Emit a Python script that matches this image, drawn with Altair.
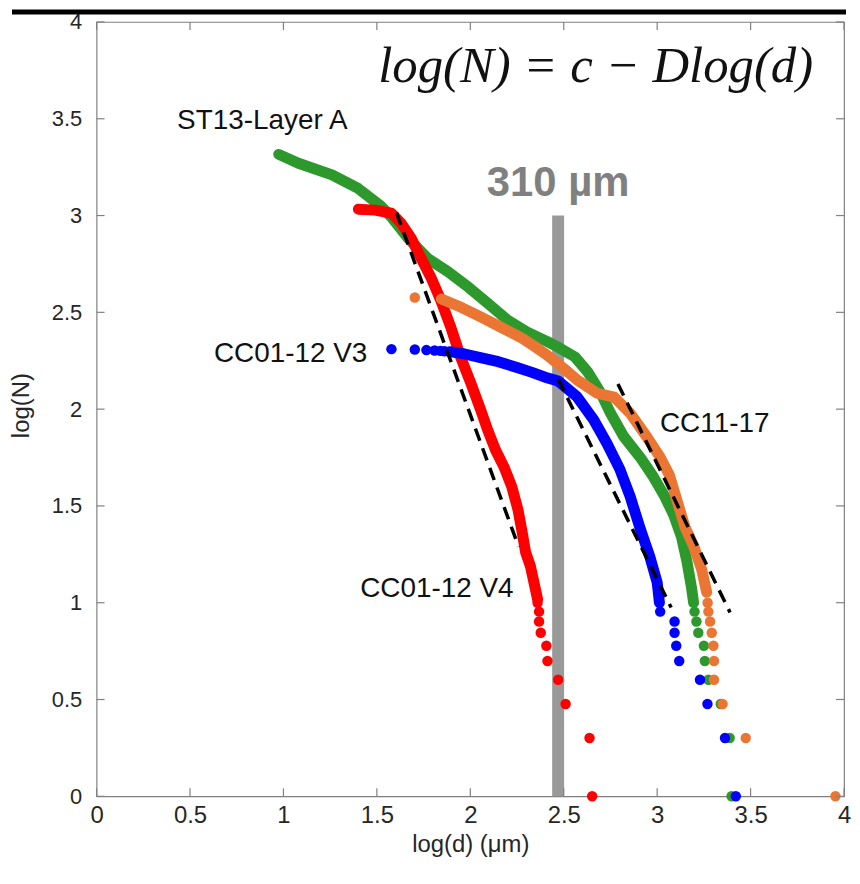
import altair as alt
import pandas as pd

# ---------------- data ----------------
# ST13-Layer A (green)
green_band_x = [0.975, 1.08, 1.26, 1.40, 1.52, 1.58, 1.67, 1.77, 1.88, 1.99, 2.09, 2.20, 2.30, 2.41, 2.47,
                2.56, 2.63, 2.70, 2.75, 2.82, 2.91, 2.98, 3.04, 3.09, 3.13, 3.16, 3.185, 3.195]
green_band_y = [3.316, 3.27, 3.21, 3.14, 3.05, 2.99, 2.88, 2.78, 2.71, 2.63, 2.55, 2.46, 2.40, 2.35, 2.32,
                2.27, 2.19, 2.08, 1.98, 1.86, 1.75, 1.65, 1.55, 1.45, 1.34, 1.21, 1.07, 1.00]
green_dot_x = [3.20, 3.21, 3.22, 3.25, 3.255, 3.274, 3.34, 3.388, 3.398]
green_dot_y = [0.954, 0.903, 0.845, 0.778, 0.699, 0.602, 0.477, 0.301, 0.0]

# CC01-12 V4 (red)
red_band_x = [1.401, 1.49, 1.577, 1.63, 1.683, 1.736, 1.79, 1.843, 1.896, 1.949, 2.003, 2.056, 2.093,
              2.135, 2.18, 2.222, 2.255, 2.278, 2.296, 2.322, 2.345, 2.36]
red_band_y = [3.033, 3.028, 3.013, 2.96, 2.884, 2.781, 2.679, 2.56, 2.422, 2.267, 2.134, 1.995, 1.892,
              1.789, 1.702, 1.599, 1.481, 1.362, 1.26, 1.188, 1.085, 1.018]
red_dot_x = [2.36, 2.368, 2.368, 2.377, 2.407, 2.413, 2.47, 2.51, 2.638, 2.652]
red_dot_y = [1.0, 0.954, 0.903, 0.845, 0.778, 0.699, 0.602, 0.477, 0.301, 0.0]

# CC11-17 (orange)
orange_band_x = [1.845, 1.951, 2.058, 2.164, 2.271, 2.35, 2.41, 2.50, 2.573, 2.679, 2.77, 2.855, 2.945,
                 3.015, 3.065, 3.105, 3.148, 3.196, 3.238, 3.265]
orange_band_y = [2.569, 2.526, 2.475, 2.423, 2.37, 2.32, 2.28, 2.21, 2.15, 2.082, 2.062, 1.979, 1.856,
                 1.753, 1.66, 1.532, 1.393, 1.291, 1.172, 1.054]
orange_dot_x = [1.703, 3.27, 3.274, 3.283, 3.292, 3.301, 3.304, 3.304, 3.35, 3.474, 3.954]
orange_dot_y = [2.577, 1.0, 0.954, 0.903, 0.845, 0.778, 0.699, 0.602, 0.477, 0.301, 0.0]

# CC01-12 V3 (blue)
blue_band_x = [1.89, 1.97, 2.06, 2.15, 2.25, 2.33, 2.40, 2.47, 2.57, 2.66, 2.73, 2.80, 2.855, 2.91,
               2.96, 3.0, 3.012]
blue_band_y = [2.297, 2.285, 2.265, 2.245, 2.215, 2.19, 2.165, 2.145, 2.065, 1.945, 1.825, 1.69, 1.55,
               1.38, 1.24, 1.105, 1.0]
blue_dot_x = [1.578, 1.703, 1.765, 1.809, 1.84, 1.862, 3.016, 3.093, 3.093, 3.102, 3.118, 3.229, 3.269,
              3.363, 3.421]
blue_dot_y = [2.310, 2.308, 2.305, 2.303, 2.301, 2.299, 0.954, 0.903, 0.845, 0.778, 0.699, 0.602, 0.477,
              0.301, 0.0]

# dashed fits  log(N) = c - D log(d)
fit_id = ["red", "red", "blue", "blue", "orange", "orange"]
fit_x = [1.605, 2.258, 2.47, 3.075, 2.79, 3.39]
fit_y = [3.015, 1.29, 2.155, 0.975, 2.13, 0.95]

# 310 µm marker
marker_x = [2.47]
marker_y0 = [0.0]
marker_y1 = [3.0]

# labels
label_text = ["ST13-Layer A", "CC01-12 V3", "CC11-17", "CC01-12 V4"]
label_x = [0.431, 0.628, 3.015, 1.411]
label_y = [3.445, 2.243, 1.882, 1.028]

tick_values = [0, 0.5, 1, 1.5, 2, 2.5, 3, 3.5, 4]

# ---------------- chart ----------------
W, H = 751, 778
TICK = 8
GRAY = "#808080"
TXT = "#262626"

xs = alt.Scale(domain=[0, 4], nice=False, zero=False)
ys = alt.Scale(domain=[0, 4], nice=False, zero=False)


def band(xv, yv, color):
    df = pd.DataFrame({"x": xv, "y": yv, "i": list(range(len(xv)))})
    return alt.Chart(df).mark_line(strokeWidth=11, strokeCap="round", strokeJoin="round",
                                   color=color).encode(
        x=alt.X("x:Q", scale=xs), y=alt.Y("y:Q", scale=ys), order="i:Q")


def dots(xv, yv, color):
    df = pd.DataFrame({"x": xv, "y": yv})
    return alt.Chart(df).mark_circle(size=110, opacity=1, color=color).encode(
        x=alt.X("x:Q", scale=xs), y=alt.Y("y:Q", scale=ys))


GREEN, RED, ORANGE, BLUE = "#2D992D", "#FF0000", "#EB7533", "#0000FF"

x_axis = alt.Axis(values=tick_values, format="~g", ticks=False, domain=False, grid=False,
                  labelFont="Liberation Sans", labelFontSize=24, labelColor=TXT,
                  labelPadding=7, labelFlush=False, labelOverlap=False,
                  title="log(d) (\u03bcm)", titleFont="Liberation Sans", titleFontSize=24,
                  titleFontWeight="normal", titleColor=TXT, titleY=48, titleBaseline="middle")
y_axis = alt.Axis(values=tick_values, format="~g", ticks=False, domain=False, grid=False,
                  labelFont="Liberation Sans", labelFontSize=22, labelColor=TXT,
                  labelPadding=15, labelFlush=False, labelOverlap=False,
                  title="log(N)", titleFont="Liberation Sans", titleFontSize=24,
                  titleFontWeight="normal", titleColor=TXT, titleX=-75, titleY=385,
                  titleBaseline="middle", titleAlign="center")

marker_df = pd.DataFrame({"x": marker_x, "y": marker_y0, "y2": marker_y1})
marker = alt.Chart(marker_df).mark_rule(strokeWidth=12, color="#999999").encode(
    x=alt.X("x:Q", scale=xs, axis=x_axis), y=alt.Y("y:Q", scale=ys, axis=y_axis), y2="y2:Q")

fit_df = pd.DataFrame({"x": fit_x, "y": fit_y, "id": fit_id, "i": list(range(len(fit_x)))})
fits = alt.Chart(fit_df).mark_line(strokeDash=[13, 8], strokeWidth=3.5, color="black").encode(
    x=alt.X("x:Q", scale=xs), y=alt.Y("y:Q", scale=ys), detail="id:N", order="i:Q")

lab_df = pd.DataFrame({"x": label_x, "y": label_y, "t": label_text})
labels = alt.Chart(lab_df).mark_text(align="left", baseline="alphabetic", font="Liberation Sans",
                                     fontSize=28, color="#111111").encode(
    x=alt.X("x:Q", scale=xs), y=alt.Y("y:Q", scale=ys), text="t:N")

um_df = pd.DataFrame({"x": [2.47], "y": [3.10], "t": ["310 \u00b5m"]})
um_text = alt.Chart(um_df).mark_text(align="center", baseline="alphabetic", font="Liberation Sans",
                                     fontSize=42, fontWeight="bold", color="#808080").encode(
    x=alt.X("x:Q", scale=xs), y=alt.Y("y:Q", scale=ys), text="t:N")

eq_df = pd.DataFrame({"x": [1.507], "y": [3.692], "t": ["log(N) = c  \u2212 Dlog(d)"]})
eq_text = alt.Chart(eq_df).mark_text(align="left", baseline="alphabetic", font="Liberation Serif",
                                     fontSize=51, fontStyle="italic", color="#111111").encode(
    x=alt.X("x:Q", scale=xs), y=alt.Y("y:Q", scale=ys), text="t:N")

tick_df = pd.DataFrame({"v": tick_values})
tk = alt.Chart(tick_df).mark_rule(color=GRAY, strokeWidth=1.2)
ticks_bottom = tk.encode(x=alt.X("v:Q", scale=xs), y=alt.value(H), y2=alt.value(H - TICK))
ticks_top = tk.encode(x=alt.X("v:Q", scale=xs), y=alt.value(0), y2=alt.value(TICK))
ticks_left = tk.encode(y=alt.Y("v:Q", scale=ys), x=alt.value(0), x2=alt.value(TICK))
ticks_right = tk.encode(y=alt.Y("v:Q", scale=ys), x=alt.value(W), x2=alt.value(W - TICK))

top_bar = alt.Chart(pd.DataFrame({"a": [0]})).mark_rule(color="black", strokeWidth=5).encode(
    x=alt.value(-85), x2=alt.value(753), y=alt.value(-10))

chart = alt.layer(
    marker,
    band(green_band_x, green_band_y, GREEN), dots(green_dot_x, green_dot_y, GREEN),
    band(red_band_x, red_band_y, RED), dots(red_dot_x, red_dot_y, RED),
    band(orange_band_x, orange_band_y, ORANGE), dots(orange_dot_x, orange_dot_y, ORANGE),
    band(blue_band_x, blue_band_y, BLUE), dots(blue_dot_x, blue_dot_y, BLUE),
    fits, labels, um_text, eq_text,
    ticks_bottom, ticks_top, ticks_left, ticks_right, top_bar,
).properties(
    width=W, height=H,
    autosize=alt.AutoSizeParams(type="none"),
    padding={"left": 89, "top": 12, "right": 8, "bottom": 70},
    background="white",
).configure_view(stroke=GRAY, strokeWidth=1.2)

chart.save("out.html", embed_options={"renderer": "svg", "actions": False})
